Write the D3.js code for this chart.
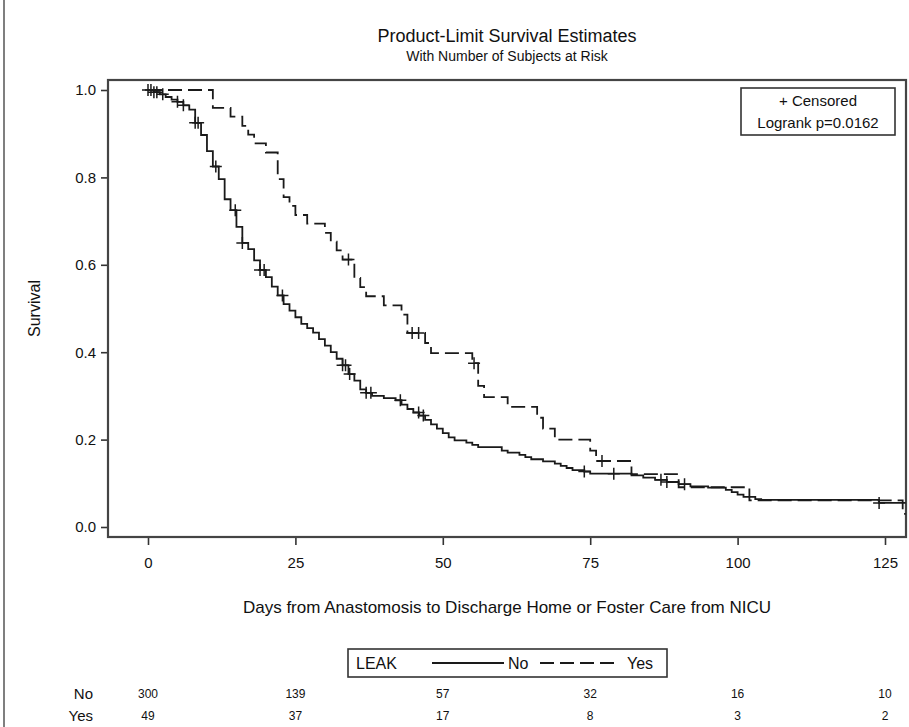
<!DOCTYPE html>
<html>
<head>
<meta charset="utf-8">
<script src="https://cdn.jsdelivr.net/npm/d3@7"></script>
<style>
  body { margin: 0; background: #fff; }
  text { font-family: "Liberation Sans", Arial, sans-serif; fill: #111; }
</style>
</head>
<body>
<svg id="canvas" width="909" height="727"></svg>
<script>
// Kaplan-Meier steps (day, survival after the drop)
let noTimes = [0, 1, 2, 3, 4, 5, 6, 7, 8, 9, 10, 11, 12, 13, 14, 15, 16, 17, 18, 19, 20,
  21, 22, 23, 24, 25, 26, 27, 28, 29, 30, 31, 32, 33, 34, 35, 36, 37, 38, 40, 42, 43, 44,
  45, 46, 47, 48, 49, 50, 51, 52, 54, 55, 56, 60, 61, 63, 64, 65, 67, 69, 70, 71, 72, 74,
  75, 82, 84, 86, 88, 90, 92, 95, 98, 99, 100, 101, 103, 104, 124];
let noSurv = [1.0, 0.995, 0.99, 0.984, 0.978, 0.973, 0.965, 0.955, 0.925, 0.897, 0.86,
  0.825, 0.796, 0.75, 0.725, 0.687, 0.65, 0.636, 0.61, 0.588, 0.572, 0.55, 0.53, 0.51,
  0.495, 0.48, 0.465, 0.455, 0.445, 0.43, 0.415, 0.4, 0.385, 0.37, 0.35, 0.335, 0.315,
  0.307, 0.3, 0.295, 0.29, 0.28, 0.27, 0.262, 0.255, 0.245, 0.235, 0.225, 0.215, 0.205,
  0.198, 0.193, 0.188, 0.183, 0.175, 0.17, 0.165, 0.16, 0.155, 0.15, 0.145, 0.14, 0.135,
  0.13, 0.127, 0.122, 0.118, 0.113, 0.108, 0.103, 0.098, 0.093, 0.09, 0.085, 0.08, 0.074,
  0.069, 0.064, 0.062, 0.055];
let noCensor = [0, 0.5, 1, 1.5, 2.5, 5, 6, 8, 8.5, 11.5, 14.8, 16, 19, 19.7, 22.8, 33,
  33.5, 34.2, 37, 37.8, 42.8, 45.9, 46.7, 74, 79, 87, 88, 91, 124];

let yesTimes = [0, 11, 14, 16, 17, 18, 20, 22, 23, 24, 25, 27, 30, 31, 32, 33, 35, 36, 37,
  40, 43, 44, 47, 48, 55, 56, 57, 61, 66, 67, 69, 75, 76, 82, 90, 102, 128];
let yesSurv = [1.0, 0.959, 0.939, 0.918, 0.898, 0.878, 0.857, 0.796, 0.755, 0.735, 0.714,
  0.694, 0.673, 0.653, 0.633, 0.612, 0.57, 0.549, 0.528, 0.507, 0.486, 0.444, 0.421,
  0.398, 0.375, 0.323, 0.297, 0.275, 0.25, 0.225, 0.2, 0.175, 0.151, 0.121, 0.091, 0.061,
  0.03];
let yesCensor = [34, 44.8, 45.9, 55.3, 77];

let endTime = 128.5;

let riskTimes = [0, 25, 50, 75, 100, 125];
let noRisk = [300, 139, 57, 32, 16, 10];
let yesRisk = [49, 37, 17, 8, 3, 2];

let xTicks = [0, 25, 50, 75, 100, 125];
let yTicks = [0.0, 0.2, 0.4, 0.6, 0.8, 1.0];

// layout
let plotL = 108, plotR = 906, plotT = 80, plotB = 537;

let svg = d3.select("#canvas");

let xScale = d3.scaleLinear().domain([0, 125]).range([148, 885]);
let yScale = d3.scaleLinear().domain([0, 1]).range([527, 90]);

// outer border (left side only is visible)
svg.append("line")
  .attr("x1", 4).attr("x2", 4).attr("y1", 0).attr("y2", 727)
  .attr("stroke", "#555").attr("stroke-width", 1.5);

// titles
svg.append("text")
  .attr("x", (plotL + plotR) / 2).attr("y", 42)
  .attr("text-anchor", "middle").style("font-size", "18px")
  .text("Product-Limit Survival Estimates");
svg.append("text")
  .attr("x", (plotL + plotR) / 2).attr("y", 61)
  .attr("text-anchor", "middle").style("font-size", "14px")
  .text("With Number of Subjects at Risk");

// axes
let xAxis = d3.axisBottom(xScale).tickValues(xTicks).tickSize(8).tickSizeOuter(0).tickPadding(12);
let yAxis = d3.axisLeft(yScale).tickValues(yTicks).tickSize(7).tickSizeOuter(0).tickPadding(5)
  .tickFormat(d3.format(".1f"));

let gx = svg.append("g").attr("transform", `translate(0,${plotB})`).call(xAxis);
let gy = svg.append("g").attr("transform", `translate(${plotL},0)`).call(yAxis);
[gx, gy].forEach(g => {
  g.select(".domain").remove();
  g.selectAll("line").attr("stroke", "#333").attr("stroke-width", 1.6);
  g.selectAll("text").style("font-size", "15px").style("font-family", "Liberation Sans, Arial, sans-serif").attr("fill", "#111");
});

// frame
svg.append("rect")
  .attr("x", plotL).attr("y", plotT)
  .attr("width", plotR - plotL).attr("height", plotB - plotT)
  .attr("fill", "none").attr("stroke", "#444").attr("stroke-width", 2.2);

svg.append("text")
  .attr("transform", `translate(40,${(plotT + plotB) / 2}) rotate(-90)`)
  .attr("text-anchor", "middle").style("font-size", "16px")
  .text("Survival");

svg.append("text")
  .attr("x", (plotL + plotR) / 2).attr("y", 613)
  .attr("text-anchor", "middle").style("font-size", "17px")
  .text("Days from Anastomosis to Discharge Home or Foster Care from NICU");

// curves
let stepLine = d3.line()
  .x(d => xScale(d[0]))
  .y(d => yScale(d[1]))
  .curve(d3.curveStepAfter);

let survAt = (times, surv, t) => {
  let i = d3.bisectRight(times, t) - 1;
  return surv[Math.max(0, i)];
};

let drawCurve = (times, surv, censor, dash) => {
  let pts = times.map((t, i) => [t, surv[i]]);
  pts.push([endTime, surv[surv.length - 1]]);
  svg.append("path")
    .attr("d", stepLine(pts))
    .attr("fill", "none")
    .attr("stroke", "#1a1a1a")
    .attr("stroke-width", 1.8)
    .attr("stroke-dasharray", dash);

  svg.selectAll(null)
    .data(censor)
    .enter()
    .append("path")
    .attr("d", t => {
      let cx = xScale(t), cy = yScale(survAt(times, surv, t));
      return `M${cx - 6},${cy}H${cx + 6}M${cx},${cy - 6}V${cy + 6}`;
    })
    .attr("stroke", "#1a1a1a")
    .attr("stroke-width", 1.5);
};

drawCurve(noTimes, noSurv, noCensor, null);
drawCurve(yesTimes, yesSurv, yesCensor, "14,6");

// inset box
svg.append("rect")
  .attr("x", 741).attr("y", 88).attr("width", 154).attr("height", 47)
  .attr("fill", "#fff").attr("stroke", "#333").attr("stroke-width", 1.6);
svg.append("text")
  .attr("x", 818).attr("y", 106).attr("text-anchor", "middle").style("font-size", "15px")
  .text("+ Censored");
svg.append("text")
  .attr("x", 818).attr("y", 128).attr("text-anchor", "middle").style("font-size", "15px")
  .text("Logrank p=0.0162");

// legend
let legend = svg.append("g");
legend.append("rect")
  .attr("x", 348).attr("y", 649).attr("width", 319).attr("height", 28)
  .attr("fill", "none").attr("stroke", "#333").attr("stroke-width", 1.6);
legend.append("text").attr("x", 356).attr("y", 669).style("font-size", "16px").text("LEAK");
legend.append("line")
  .attr("x1", 432).attr("x2", 504).attr("y1", 663).attr("y2", 663)
  .attr("stroke", "#1a1a1a").attr("stroke-width", 1.8);
legend.append("text").attr("x", 508).attr("y", 669).style("font-size", "16px").text("No");
legend.append("line")
  .attr("x1", 540).attr("x2", 620).attr("y1", 663).attr("y2", 663)
  .attr("stroke", "#1a1a1a").attr("stroke-width", 1.8).attr("stroke-dasharray", "14,6");
legend.append("text").attr("x", 627).attr("y", 669).style("font-size", "16px").text("Yes");

// numbers at risk
let riskRows = [["No", noRisk, 699], ["Yes", yesRisk, 721]];
riskRows.forEach(([label, vals, y]) => {
  svg.append("text")
    .attr("x", 93).attr("y", y).attr("text-anchor", "end").style("font-size", "15px")
    .text(label);
  svg.selectAll(null)
    .data(riskTimes)
    .enter()
    .append("text")
    .attr("x", t => xScale(t)).attr("y", y - 1)
    .attr("text-anchor", "middle").style("font-size", "12px")
    .text((t, i) => vals[i]);
});
</script>
</body>
</html>
